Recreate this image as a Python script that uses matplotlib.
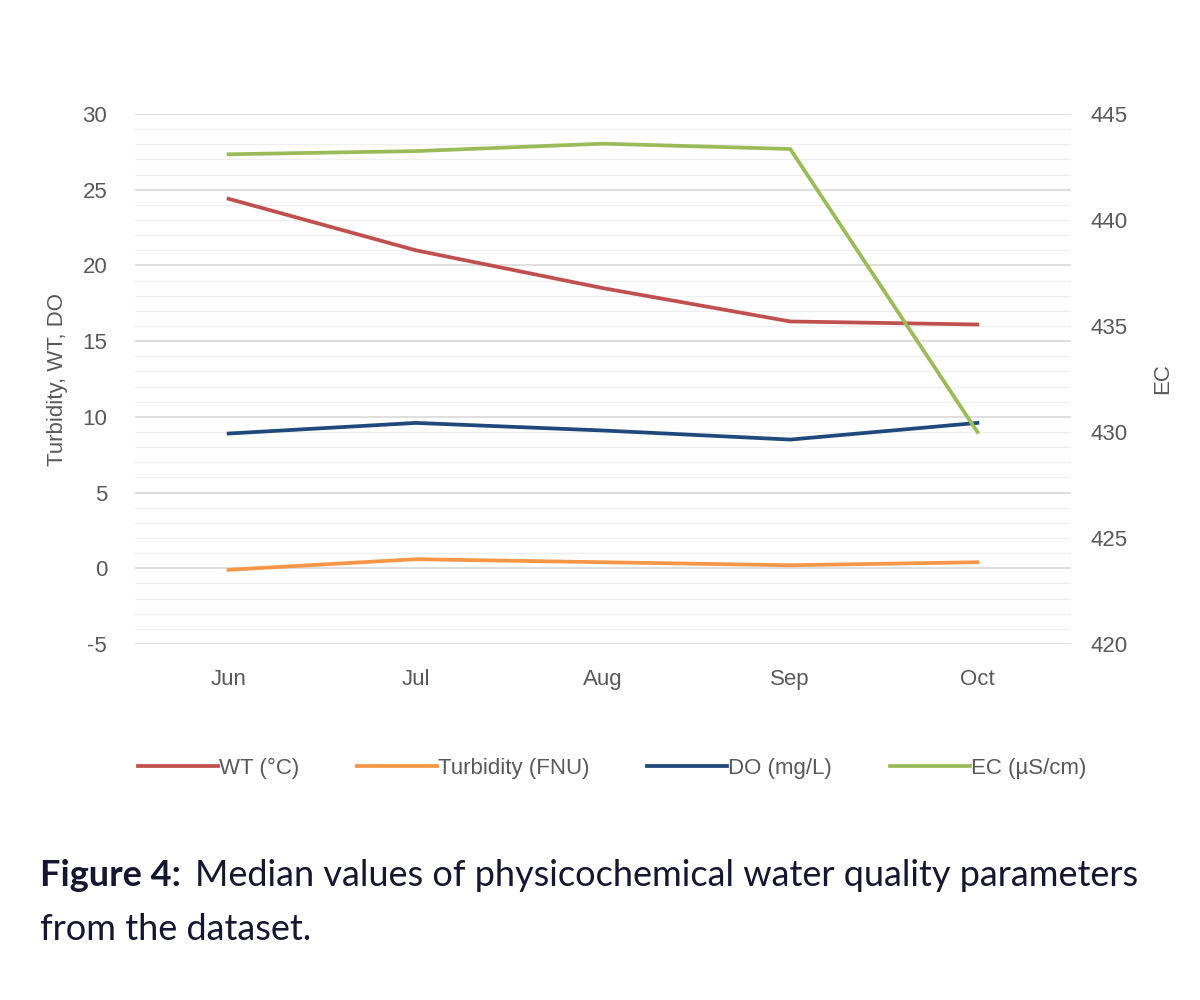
import matplotlib.pyplot as plt
from matplotlib.ticker import MultipleLocator

months = ['Jun', 'Jul', 'Aug', 'Sep', 'Oct']
wt = [24.4, 21.0, 18.5, 16.3, 16.1]
turbidity = [-0.1, 0.6, 0.4, 0.2, 0.4]
do = [8.9, 9.6, 9.1, 8.5, 9.6]
ec = [443.1, 443.25, 443.6, 443.35, 430.0]

plt.rcParams.update({"font.family": "Liberation Sans", "font.size": 16,
                     "axes.unicode_minus": False})
grey = "#595959"

fig = plt.figure(figsize=(12, 10), dpi=100)
ax = fig.add_axes([0.1125, 0.356, 0.78, 0.53])
x = range(len(months))

l1, = ax.plot(x, wt, color="#C0504D", lw=2.7, label="WT (°C)")
l2, = ax.plot(x, turbidity, color="#F79646", lw=2.7, label="Turbidity (FNU)")
l3, = ax.plot(x, do, color="#1F497D", lw=2.7, label="DO (mg/L)")

ax.set_xlim(-0.5, len(months) - 0.5)
ax.set_ylim(-5, 30)
ax.yaxis.set_major_locator(MultipleLocator(5))
ax.yaxis.set_minor_locator(MultipleLocator(1))
ax.grid(which='major', axis='y', color="#D9D9D9", lw=1.2, zorder=0)
ax.grid(which='minor', axis='y', color="#EFEFEF", lw=1.0, zorder=0)
ax.set_xticks(list(x))
ax.set_xticklabels(months)
ax.tick_params(which='both', length=0, colors=grey, labelsize=16)
ax.tick_params(axis='x', pad=18)
ax.tick_params(axis='y', pad=20)
ax.set_ylabel('Turbidity, WT, DO', color=grey, fontsize=16, labelpad=10)
for s in ax.spines.values():
    s.set_visible(False)

ax2 = ax.twinx()
l4, = ax2.plot(x, ec, color="#9BBB59", lw=2.7, label="EC (µS/cm)")
ax2.set_ylim(420, 445)
ax2.yaxis.set_major_locator(MultipleLocator(5))
ax2.tick_params(length=0, colors=grey, labelsize=16, pad=14)
ax2.set_ylabel('EC', color=grey, fontsize=16, labelpad=18)
for s in ax2.spines.values():
    s.set_visible(False)

fig.legend(handles=[l1, l2, l3, l4], loc='center', bbox_to_anchor=(0.51, 0.232),
           ncol=4, frameon=False, fontsize=16, handlelength=3.6, handletextpad=0.05,
           columnspacing=2.6, labelcolor=grey)

cap_color = "#161630"
t1 = fig.text(0.033, 0.125, "Figure 4:", fontsize=26, family="Lato",
              weight="bold", color=cap_color, va='center')
renderer = fig.canvas.get_renderer()
bb = t1.get_window_extent(renderer).transformed(fig.transFigure.inverted())
fig.text(bb.x1 + 0.012, 0.125, "Median values of physicochemical water quality parameters",
         fontsize=26, family="Lato", color=cap_color, va='center')
fig.text(0.033, 0.07, "from the dataset.", fontsize=26, family="Lato",
         color=cap_color, va='center')

fig.savefig("out.png", dpi=100, facecolor="white")
